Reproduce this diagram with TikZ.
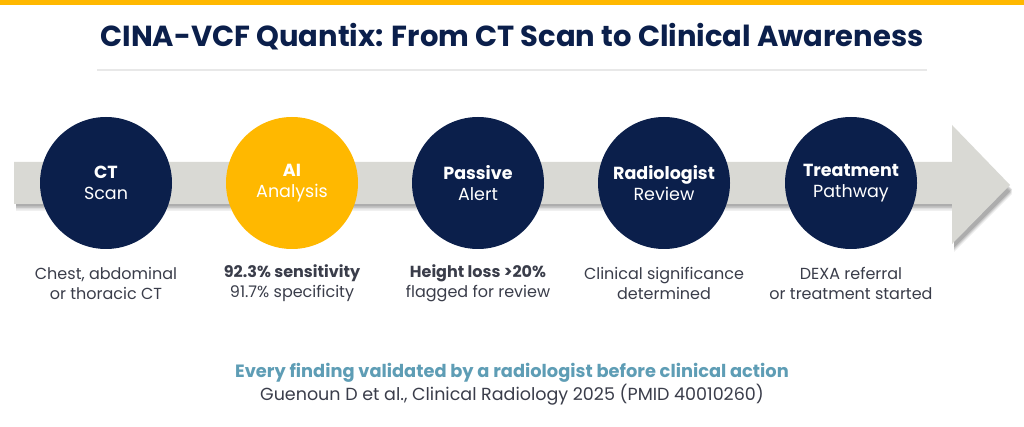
\documentclass[tikz,border=0pt]{standalone}
\usepackage{fontspec}
\setmainfont{Poppins}
\usetikzlibrary{shapes.geometric}
\definecolor{navy}{HTML}{0B1F4B}
\definecolor{gold}{HTML}{FFB800}
\definecolor{band}{HTML}{D9D9D4}
\definecolor{teal}{HTML}{5E9DB5}
\definecolor{txt}{HTML}{3A3D4A}
\definecolor{sep}{HTML}{E8E8E8}
\tikzset{
  stage/.style={circle, minimum size=132pt, inner sep=0pt, fill=navy, text=white, align=center, font=\fontsize{17.5}{21}\selectfont},
  caption/.style={align=center, text=txt, font=\fontsize{16}{20}\selectfont}
}
\begin{document}
\begin{tikzpicture}[x=1pt,y=-1pt]
\useasboundingbox (0,0) rectangle (1024,427);
\fill[white] (0,0) rectangle (1024,427);
\fill[gold] (0,0) rectangle (1024,5);
\node[font=\fontsize{29}{33}\selectfont\bfseries, text=navy] (title) at (512,37) {CINA-VCF Quantix: From CT Scan to Clinical Awareness};
\draw[sep, line width=1.2pt] (97,70) -- (927,70);
% shadow
\foreach \d/\o in {6/0.06,4.5/0.08,3/0.10,1.5/0.12}{
  \fill[black, opacity=\o] (16,165+\d) -- (954,165+\d) -- (954,128+\d) -- (1012,188+\d) -- (954,246+\d) -- (954,205+\d) -- (16,205+\d) -- cycle;
}
\fill[band] (14,162) -- (952,162) -- (952,125) -- (1010,185) -- (952,244) -- (952,204) -- (14,204) -- cycle;
\node[stage] (ct) at (106,183) {\textbf{CT}\\Scan};
\node[stage, fill=gold] (ai) at (292,183) {\textbf{AI}\\Analysis};
\node[stage] (pa) at (478,183) {\textbf{Passive}\\Alert};
\node[stage] (ra) at (664,183) {\textbf{Radiologist}\\Review};
\node[stage] (tr) at (851,183) {\textbf{Treatment}\\Pathway};
\node[caption] (c1) at (106,283) {Chest, abdominal\\or thoracic CT};
\node[caption] (c2) at (292,283) {\textbf{92.3\% sensitivity}\\91.7\% specificity};
\node[caption] (c3) at (478,283) {\textbf{Height loss >20\%}\\flagged for review};
\node[caption] (c4) at (664,283) {Clinical significance\\determined};
\node[caption] (c5) at (851,283) {DEXA referral\\or treatment started};
\node[text=teal, font=\fontsize{17.8}{21}\selectfont\bfseries] (f1) at (512,373) {Every finding validated by a radiologist before clinical action};
\node[text=txt, font=\fontsize{17.5}{21}\selectfont] (f2) at (512,395) {Guenoun D et al., Clinical Radiology 2025 (PMID 40010260)};
\end{tikzpicture}
\end{document}
